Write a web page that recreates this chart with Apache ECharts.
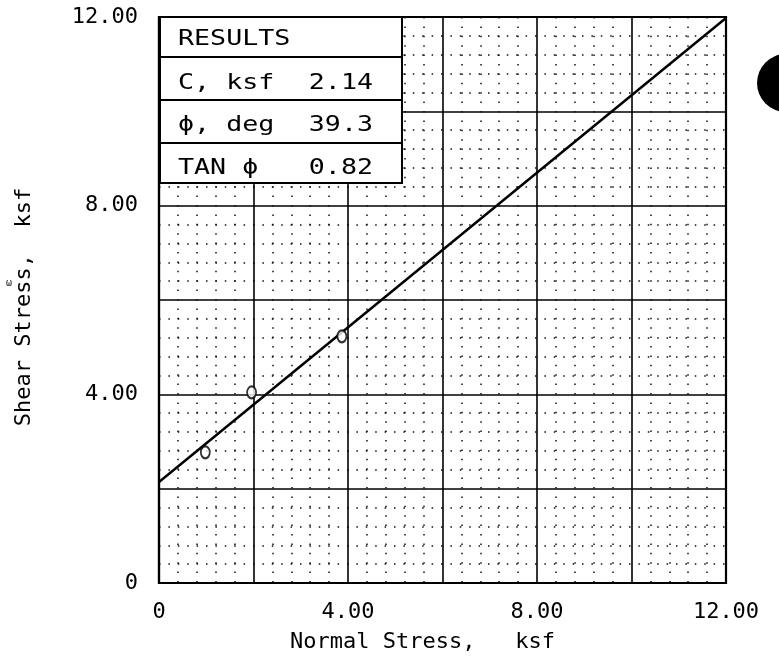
<!DOCTYPE html>
<html>
<head>
<meta charset="utf-8">
<script src="https://cdn.jsdelivr.net/npm/echarts@6/dist/echarts.min.js"></script>
<style>
html,body{margin:0;padding:0;background:#fff;}
#chart{width:779px;height:662px;}
</style>
</head>
<body>
<div id="chart"></div>
<script>
// Data
const testNormal = [0.98, 1.96, 3.87];
const testShear  = [2.77, 4.04, 5.23];
const envelopeNormal = [0, 12];
const envelopeShear  = [2.14, 11.98];
const resultLabels = ['C, ksf', '\u03d5, deg', 'TAN \u03d5'];
const resultValues = ['2.14', '39.3', '0.82'];
const resultsTitle = 'RESULTS';
const xTickValues = [0, 4, 8, 12];
const yTickValues = [0, 4, 8, 12];
const xName = 'Normal Stress,   ksf';
const yName = 'Shear Stress,  ksf';

const FONT = 'DejaVu Sans Mono';
const fmt = v => (v === 0 ? '0' : v.toFixed(2));
const tickFormatter = ticks => v => (ticks.some(t => Math.abs(t - v) < 1e-9) ? fmt(v) : '');

const scatterData = testNormal.map((x, i) => [x, testShear[i]]);
const lineData = envelopeNormal.map((x, i) => [x, envelopeShear[i]]);

const gridL = 159, gridT = 17, gridW = 567, gridH = 566;
const tblX = 160, tblY = 17, tblW = 242, rowYs = [17, 57, 100, 143, 183];

const graphics = [];
graphics.push({type: 'rect', z: 50, shape: {x: tblX, y: tblY, width: tblW, height: rowYs[4] - tblY},
  style: {fill: '#fff', stroke: '#000', lineWidth: 2}});
for (let i = 1; i < 4; i++) {
  graphics.push({type: 'line', z: 51, shape: {x1: tblX, y1: rowYs[i], x2: tblX + tblW, y2: rowYs[i]},
    style: {stroke: '#000', lineWidth: 2}});
}
const tfont = '21px "' + FONT + '"';
const SX = 1.27;
graphics.push({type: 'text', z: 52, x: 178, y: 40, scaleX: SX, style: {text: resultsTitle, font: tfont, fill: '#000', verticalAlign: 'middle', align: 'left'}});
resultLabels.forEach((lab, i) => {
  const cy = [84, 126, 169][i];
  graphics.push({type: 'text', z: 52, x: 178, y: cy, scaleX: SX, style: {text: lab, font: tfont, fill: '#000', verticalAlign: 'middle', align: 'left'}});
  graphics.push({type: 'text', z: 52, x: 373, y: cy, scaleX: SX, style: {text: resultValues[i], font: tfont, fill: '#000', verticalAlign: 'middle', align: 'right'}});
});
graphics.push({type: 'circle', z: 52, shape: {cx: 786, cy: 83, r: 29}, style: {fill: '#000'}});
graphics.push({type: 'text', z: 52, x: 9, y: 283, style: {text: '\u03c9', font: '10px "' + FONT + '"', fill: '#222', align: 'center', verticalAlign: 'middle'}});

const chart = echarts.init(document.getElementById('chart'), null, {renderer: 'canvas'});
chart.setOption({
  animation: false,
  backgroundColor: '#fff',
  grid: {left: gridL, top: gridT, width: gridW, height: gridH, show: true, borderColor: '#000', borderWidth: 2.2, backgroundColor: 'transparent'},
  xAxis: {
    type: 'value', min: 0, max: 12, interval: 2,
    name: xName, nameLocation: 'middle', nameGap: 48,
    nameTextStyle: {fontFamily: FONT, fontSize: 22, color: '#000', padding: [0, 40, 0, 0]},
    axisLine: {show: true, lineStyle: {color: '#000', width: 2.2}},
    axisTick: {show: false},
    axisLabel: {formatter: tickFormatter(xTickValues), fontFamily: FONT, fontSize: 22, color: '#000', margin: 18, showMaxLabel: true, showMinLabel: true},
    splitLine: {show: true, lineStyle: {color: '#000', width: 1.6}},
    minorTick: {show: false, splitNumber: 5},
    minorSplitLine: {show: true, lineStyle: {color: '#111', width: 1.5, type: [1.5, 7.9]}}
  },
  yAxis: {
    type: 'value', min: 0, max: 12, interval: 2,
    name: yName, nameLocation: 'middle', nameGap: 124,
    nameTextStyle: {fontFamily: FONT, fontSize: 22, color: '#000', padding: [0, 14, 0, 0]},
    axisLine: {show: true, lineStyle: {color: '#000', width: 2.2}},
    axisTick: {show: false},
    axisLabel: {formatter: tickFormatter(yTickValues), fontFamily: FONT, fontSize: 22, color: '#000', margin: 21},
    splitLine: {show: true, lineStyle: {color: '#000', width: 1.6}},
    minorTick: {show: false, splitNumber: 5},
    minorSplitLine: {show: true, lineStyle: {color: '#111', width: 1.5, type: [1.5, 7.9]}}
  },
  series: [
    {type: 'line', data: lineData, showSymbol: false, lineStyle: {color: '#000', width: 2.5}, z: 10, silent: true},
    {type: 'scatter', data: scatterData, symbol: 'emptyCircle', symbolSize: [9, 12],
      itemStyle: {color: '#000', borderColor: '#000', borderWidth: 1.5}, z: 11}
  ],
  graphic: graphics
});
</script>
</body>
</html>
